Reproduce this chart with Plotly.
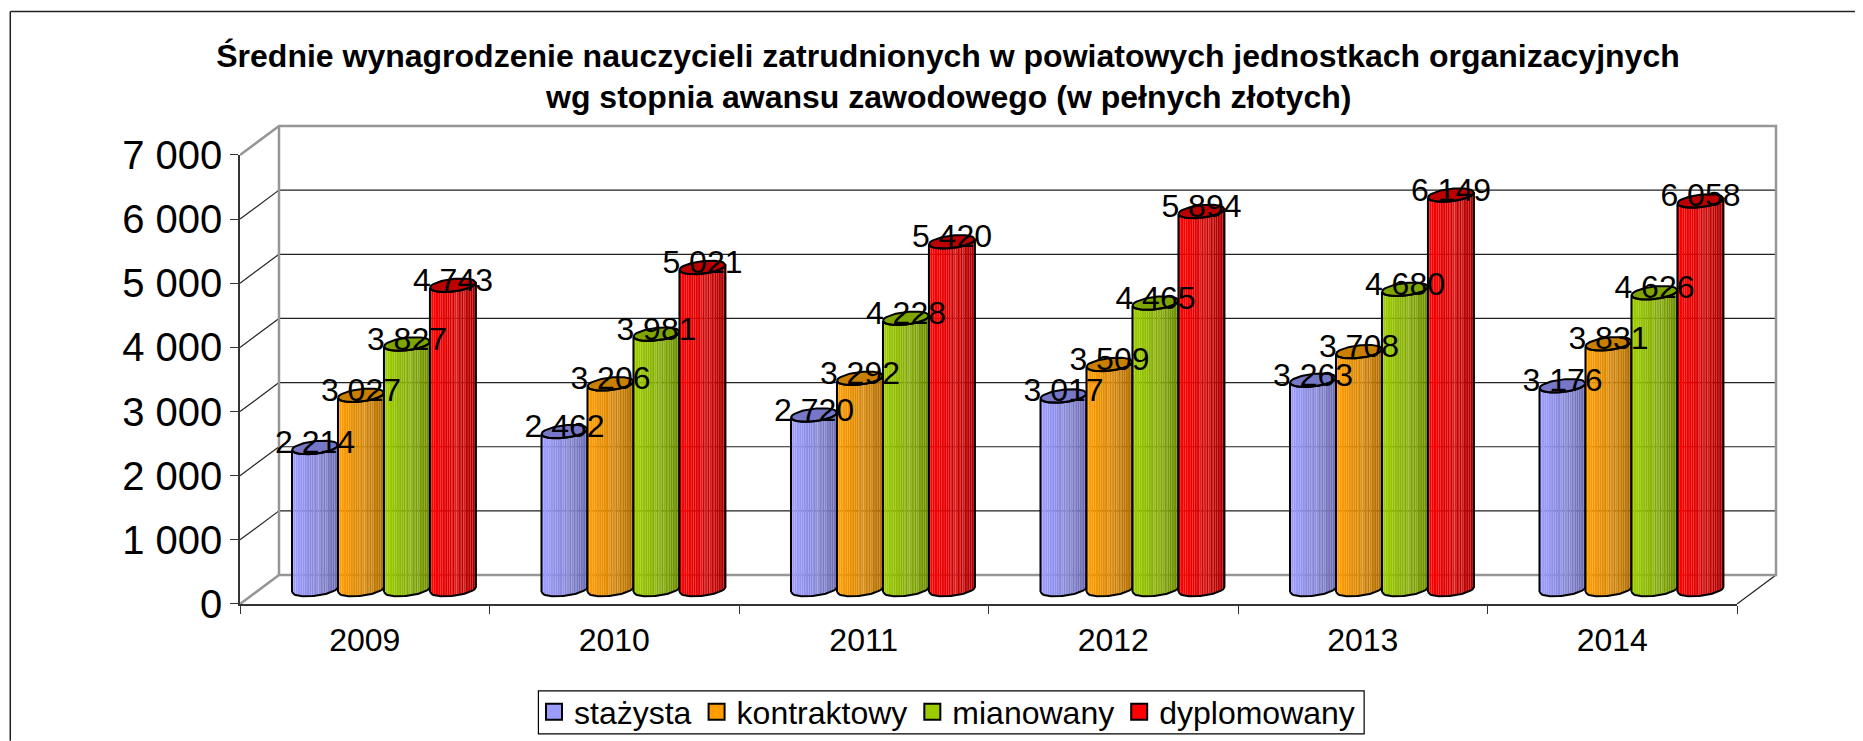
import plotly.graph_objects as go

years = ["2009", "2010", "2011", "2012", "2013", "2014"]
stazysta = [2214, 2462, 2720, 3017, 3263, 3176]
kontraktowy = [3027, 3206, 3292, 3509, 3708, 3831]
mianowany = [3827, 3981, 4228, 4465, 4680, 4626]
dyplomowany = [4743, 5021, 5420, 5894, 6149, 6058]
series_names = ["stażysta", "kontraktowy", "mianowany", "dyplomowany"]
series_values = [stazysta, kontraktowy, mianowany, dyplomowany]
y_ticks = [0, 1000, 2000, 3000, 4000, 5000, 6000, 7000]
y_tick_labels = ["0", "1 000", "2 000", "3 000", "4 000", "5 000", "6 000", "7 000"]
title_line_1 = "Średnie wynagrodzenie nauczycieli zatrudnionych w powiatowych jednostkach organizacyjnych"
title_line_2 = "wg stopnia awansu zawodowego (w pełnych złotych)"

light = ["#9C9CFF", "#FF9C00", "#9CCC00", "#FF0000"]
dark = ["#6A6AAE", "#AE6C00", "#6A8A00", "#AA0000"]
cap = ["#7777C8", "#C98000", "#7FA600", "#BB0000"]

# page offset of the browser body
OX, OY = 8, 8
W, H = 1855, 733
L, R, T, B = 239.5 - OX, 1737 - OX, 154.5 - OY, 604 - OY
PX_X = (R - L) / 6
PX_Y = (B - T) / 7000
DEPTH_X = 39 / PX_X
DEPTH_Y = 29 / PX_Y
PAD = 3
R_EXT = R + 39 + PAD
T_EXT = T - 29 - PAD
X_MAX = (R_EXT - L) / PX_X
Y_MAX = (B - T_EXT) / PX_Y
BAR_W = 46 / PX_X
GROUP_START = 32.5 / PX_X
ELL_B = 6.3 / PX_Y
ELL_TILT = 2.5 / PX_Y
STRIPS = 26
STREAKS = {12, 14, 15, 17, 19}
FONT = "Liberation Sans, Arial, sans-serif"


def hexrgb(h):
    return tuple(int(h[i:i + 2], 16) for i in (1, 3, 5))


def mix(a, b, t, white=0.0):
    ca, cb = hexrgb(a), hexrgb(b)
    rgb = [p + (q - p) * t for p, q in zip(ca, cb)]
    rgb = [c + (255 - c) * white for c in rgb]
    return "rgb(%d,%d,%d)" % tuple(round(c) for c in rgb)


def side_y(u, v, sign):
    return v + sign * ELL_B * max(0, 1 - u * u) ** 0.5 + ELL_TILT * u


def paper_x(px):
    return (px - OX - L) / (R_EXT - L)


def paper_y(px):
    return 1 - (px - OY - T_EXT) / (B - T_EXT)


fig = go.Figure()
gx, gy = [], []
for v in y_ticks[1:-1]:
    gx += [DEPTH_X, 6 + DEPTH_X, None]
    gy += [v + DEPTH_Y, v + DEPTH_Y, None]
for v in y_ticks[1:-1]:
    gx += [0, DEPTH_X, None]
    gy += [v, v + DEPTH_Y, None]
gx += [6, 6 + DEPTH_X, None]
gy += [0, DEPTH_Y, None]
fig.add_trace(go.Scatter(x=gx, y=gy, mode="lines", line=dict(color="#222222", width=1.2),
                         showlegend=False, hoverinfo="skip"))
fig.add_trace(go.Scatter(
    x=[0, DEPTH_X, 6 + DEPTH_X, 6 + DEPTH_X, DEPTH_X, 0, None, DEPTH_X, DEPTH_X],
    y=[0, DEPTH_Y, DEPTH_Y, 7000 + DEPTH_Y, 7000 + DEPTH_Y, 7000, None, DEPTH_Y, 7000 + DEPTH_Y],
    mode="lines", line=dict(color="#969696", width=2.5),
    showlegend=False, hoverinfo="skip"))

mid_x, mid_y = DEPTH_X / 2, DEPTH_Y / 2
for s, vals in enumerate(series_values):
    for k in range(STRIPS):
        u0 = -1 + 2 * k / STRIPS
        u1 = -1 + 2 * (k + 1) / STRIPS
        xs, ys = [], []
        for g, val in enumerate(vals):
            x0 = g + GROUP_START + s * BAR_W + mid_x
            cx = x0 + BAR_W / 2
            a = BAR_W / 2
            v = val + mid_y
            xs += [cx + a * u0, cx + a * u0, cx + a * u1, cx + a * u1, None]
            ys += [side_y(u0, mid_y, -1), side_y(u0, v, -1), side_y(u1, v, -1), side_y(u1, mid_y, -1), None]
        t = min(1, max(0, (k - 1) / (STRIPS - 1)))
        fig.add_trace(go.Scatter(x=xs, y=ys, mode="none", fill="toself",
                                 fillcolor=mix(light[s], dark[s], t, 0.12 if k in STREAKS else 0),
                                 showlegend=False, hoverinfo="skip"))
    # outline + cap
    N = 40
    cxs, cys, oxs, oys = [], [], [], []
    for g, val in enumerate(vals):
        x0 = g + GROUP_START + s * BAR_W + mid_x
        cx = x0 + BAR_W / 2
        a = BAR_W / 2
        v = val + mid_y
        us = [-1 + 2 * i / N for i in range(N + 1)]
        cxs += [cx + a * u for u in us] + [cx + a * u for u in reversed(us)] + [None]
        cys += [side_y(u, v, -1) for u in us] + [side_y(u, v, 1) for u in reversed(us)] + [None]
        oxs += [cx + a * u for u in us] + [cx + a * u for u in reversed(us)] + [cx - a, None]
        oys += [side_y(u, mid_y, -1) for u in us] + [side_y(u, v, -1) for u in reversed(us)] + [side_y(-1, mid_y, -1), None]
    fig.add_trace(go.Scatter(x=cxs, y=cys, mode="lines", fill="toself", fillcolor=cap[s],
                             line=dict(color="black", width=2),
                             showlegend=False, hoverinfo="skip"))
    fig.add_trace(go.Scatter(x=oxs, y=oys, mode="lines", line=dict(color="black", width=2),
                             showlegend=False, hoverinfo="skip"))

for s, vals in enumerate(series_values):
    lx = [g + GROUP_START + s * BAR_W + mid_x + BAR_W / 2 for g in range(6)]
    ly = [val + mid_y + 2.5 / PX_Y for val in vals]
    fig.add_trace(go.Scatter(x=lx, y=ly, mode="text", text=[f"{val:,}".replace(",", " ") for val in vals],
                             textposition="middle center", textfont=dict(size=32, color="black"),
                             cliponaxis=False, showlegend=False, hoverinfo="skip"))
    fig.add_trace(go.Scatter(x=[None], y=[None], mode="markers", name=series_names[s],
                             marker=dict(symbol="square", size=18, color=light[s],
                                         line=dict(color="black", width=2))))

# front axes carried by a second, exact-size subplot
fig.add_trace(go.Scatter(x=[0], y=[0], xaxis="x2", yaxis="y2", mode="markers", marker=dict(opacity=0, size=1),
                         showlegend=False, hoverinfo="skip"))

fig.update_layout(
    width=W, height=H, autosize=False,
    margin=dict(l=L, r=W - R_EXT, t=T_EXT, b=H - B, pad=0),
    paper_bgcolor="white", plot_bgcolor="rgba(0,0,0,0)",
    font=dict(family=FONT, color="black"),
    title=dict(text=title_line_1, x=(948 - OX) / W, xanchor="center", y=1 - (56 - OY) / H, yanchor="middle",
               font=dict(size=32, color="black", family=FONT, weight="bold")),
    annotations=[dict(text=title_line_2, xref="paper", yref="paper", x=paper_x(948), y=paper_y(96),
                      xanchor="center", yanchor="middle", showarrow=False,
                      font=dict(size=32, color="black", family=FONT, weight="bold"))],
    xaxis=dict(range=[0, X_MAX], domain=[0, 1], visible=False),
    yaxis=dict(range=[0, Y_MAX], domain=[0, 1], visible=False),
    xaxis2=dict(range=[0, 6], domain=[0, (R - L) / (R_EXT - L)], anchor="y2",
                tickvals=[i + 0.5 for i in range(6)], ticktext=years, ticks="outside", ticklen=7,
                tickcolor="rgba(0,0,0,0)", tickfont=dict(size=32), showgrid=False, zeroline=False,
                showline=True, linecolor="#333333", linewidth=1.5,
                minor=dict(tickvals=list(range(7)), ticks="outside", ticklen=8, tickcolor="#333333", tickwidth=1, showgrid=False)),
    yaxis2=dict(range=[0, 7000], domain=[0, (B - T) / (B - T_EXT)], anchor="x2",
                tickvals=y_ticks, ticktext=y_tick_labels, ticks="outside", ticklen=8,
                tickcolor="#333333", tickfont=dict(size=40), showgrid=False, zeroline=False,
                showline=True, linecolor="#333333", linewidth=1.5),
    legend=dict(orientation="h", xref="container", yref="container",
                x=(947 - OX) / W, xanchor="center", y=1 - (712 - OY) / H, yanchor="middle",
                borderwidth=0, font=dict(size=32), itemwidth=30, bgcolor="rgba(0,0,0,0)",
                tracegroupgap=0),
    shapes=[
        dict(type="line", xref="paper", yref="paper", x0=paper_x(9.7), x1=paper_x(9.7), y0=paper_y(11), y1=paper_y(741),
             line=dict(color="#222222", width=1.5)),
        dict(type="line", xref="paper", yref="paper", x0=paper_x(9.7), x1=paper_x(1863), y0=paper_y(11), y1=paper_y(11),
             line=dict(color="#222222", width=1.5)),
        dict(type="rect", xref="paper", yref="paper", x0=paper_x(538), x1=paper_x(1364), y0=paper_y(734), y1=paper_y(691),
             line=dict(color="black", width=1.2)),
    ],
)
fig.write_html("out.html")
